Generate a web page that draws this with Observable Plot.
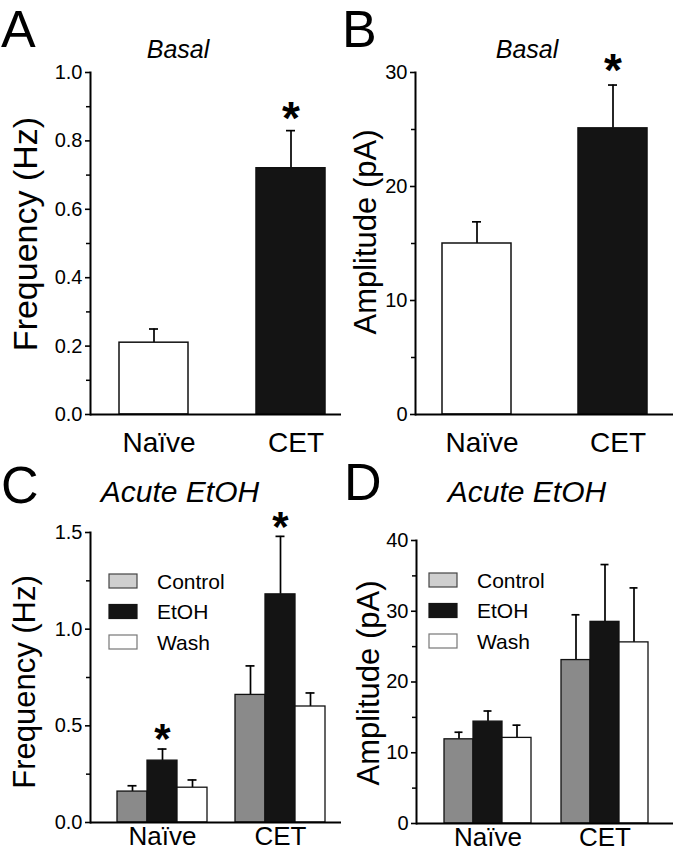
<!DOCTYPE html>
<html><head><meta charset="utf-8">
<script src="https://cdn.jsdelivr.net/npm/d3@7"></script>
<script src="https://cdn.jsdelivr.net/npm/@observablehq/plot@0.6"></script>
<style>
body{margin:0;background:#fff;}
#wrap{position:relative;width:673px;height:853px;overflow:hidden;font-family:"Liberation Sans",Arial,sans-serif;background:#fff;}
#wrap > svg{position:absolute;}
</style></head><body><div id="wrap"></div>
<script>
// ---------- data ----------
const basalGroups = ["Naïve", "CET"];
const basalFreq = [0.21, 0.72];
const basalFreqErr = [0.04, 0.11];
const basalAmp = [15.0, 25.1];
const basalAmpErr = [1.9, 3.8];
const basalSig = [false, true];

const conditions = ["Control", "EtOH", "Wash"];
const acuteGroups = ["Naïve", "CET"];
const acuteFreqNaive = [0.16, 0.32, 0.18];
const acuteFreqNaiveErr = [0.03, 0.06, 0.04];
const acuteFreqCET = [0.66, 1.18, 0.60];
const acuteFreqCETErr = [0.15, 0.30, 0.07];
const acuteFreqSig = [false, true, false];
const acuteAmpNaive = [11.9, 14.4, 12.1];
const acuteAmpNaiveErr = [1.0, 1.5, 1.8];
const acuteAmpCET = [23.1, 28.5, 25.6];
const acuteAmpCETErr = [6.4, 8.1, 7.7];
const acuteAmpSig = [false, false, false];

const freqTicks = [0, 0.2, 0.4, 0.6, 0.8, 1.0];
const freqMinor = [0.1, 0.3, 0.5, 0.7, 0.9];
const ampTicks = [0, 10, 20, 30];
const ampMinor = [5, 15, 25];
const acuteFreqTicks = [0, 0.5, 1.0, 1.5];
const acuteFreqMinor = [0.25, 0.75, 1.25];
const acuteAmpTicks = [0, 10, 20, 30, 40];
const acuteAmpMinor = [5, 15, 25, 35];

// ---------- styles ----------
const FONT = "'Liberation Sans', Arial, sans-serif";
const baseStyle = {background: "transparent", fontFamily: FONT, fontSize: "20px", color: "black", overflow: "visible"};
const wrap = document.getElementById("wrap");
function place(svg, left, top) { svg.style.left = left + "px"; svg.style.top = top + "px"; wrap.appendChild(svg); }

function yAxisMarks(ticks, minor, fmt) {
  return [
    Plot.axisY(minor, {tickSize: 4, strokeWidth: 1.5, tickFormat: () => "", label: null}),
    Plot.axisY(ticks, {tickSize: 5, tickPadding: 3, strokeWidth: 1.6, tickFormat: fmt, fontSize: 20, label: null}),
    Plot.frame({anchor: "left", strokeWidth: 2}),
    Plot.ruleY([0], {strokeWidth: 2})
  ];
}

function basalPanel(o) {
  const rows = basalGroups.map((g, i) => ({group: g, value: o.values[i], err: o.errs[i], sig: basalSig[i]}));
  return Plot.plot({
    width: o.width, height: 460,
    marginLeft: o.ml, marginRight: 0, marginTop: 72, marginBottom: 46,
    style: baseStyle,
    x: {domain: basalGroups, paddingInner: o.pi, paddingOuter: o.po, align: o.align},
    y: {domain: o.domain},
    color: {domain: basalGroups, range: ["white", "#141414"]},
    marks: [
      Plot.ruleX(rows, {x: "group", y1: "value", y2: d => d.value + d.err, strokeWidth: 1.7}),
      Plot.tickY(rows, {x: "group", y: d => d.value + d.err, strokeWidth: 1.7, insetLeft: 30, insetRight: 30}),
      Plot.barY(rows, {x: "group", y: "value", fill: "group", stroke: "#111", strokeWidth: 1.5}),
      Plot.text(rows.filter(d => d.sig), {x: "group", y: d => d.value + d.err, text: () => "*", fontSize: 46, fontWeight: "bold", dy: o.starDy, lineAnchor: "middle"}),
      Plot.axisX({tickSize: 0, tickPadding: 18, fontSize: 28, label: null, dx: 5}),
      ...yAxisMarks(o.ticks, o.minor, o.fmt)
    ]
  });
}

function acutePanel(o) {
  const rows = [];
  acuteGroups.forEach((g, gi) => conditions.forEach((c, ci) => {
    rows.push({group: g, cond: c, value: o.values[gi][ci], err: o.errs[gi][ci], sig: o.sig[ci]});
  }));
  const common = {width: o.width, height: 393, marginLeft: o.ml, marginRight: 0, marginTop: o.mt, marginBottom: 853 - 460 - o.zeroY, style: baseStyle};
  const bars = Plot.plot({
    ...common,
    fx: {domain: acuteGroups, paddingInner: o.pi, paddingOuter: o.po, align: o.align, label: null},
    x: {domain: conditions, padding: 0, axis: null},
    y: {domain: o.domain, axis: null},
    color: {domain: conditions, range: ["#8a8a8a", "#141414", "white"]},
    marks: [
      Plot.ruleX(rows, {fx: "group", x: "cond", y1: "value", y2: d => d.value + d.err, strokeWidth: 1.7}),
      Plot.tickY(rows, {fx: "group", x: "cond", y: d => d.value + d.err, strokeWidth: 1.7, insetLeft: 10.5, insetRight: 10.5}),
      Plot.barY(rows, {fx: "group", x: "cond", y: "value", fill: "cond", stroke: "#111", strokeWidth: 1.3}),
      Plot.text(rows.filter(d => d.sig), {fx: "group", x: "cond", y: d => d.value + d.err, text: () => "*", fontSize: 42, fontWeight: "bold", dy: -9, lineAnchor: "middle"}),
      Plot.axisFx({anchor: "bottom", tickSize: 0, tickPadding: 4, fontSize: 26, label: null})
    ]
  });
  const axes = Plot.plot({
    ...common,
    y: {domain: o.domain},
    marks: yAxisMarks(o.ticks, o.minor, o.fmt)
  });
  return [bars, axes];
}

// ---------- panels ----------
place(basalPanel({values: basalFreq, errs: basalFreqErr, domain: [0, 1], ticks: freqTicks, minor: freqMinor, fmt: d3.format(".1f"),
  width: 341, ml: 90, pi: 0.5, po: 0.16, align: 0.64, starDy: -11}), 0, 0);
place(basalPanel({values: basalAmp, errs: basalAmpErr, domain: [0, 30], ticks: ampTicks, minor: ampMinor, fmt: d3.format("d"),
  width: 337, ml: 79, pi: 0.493, po: 0.19, align: 0.5, starDy: -14}), 336, 0);

const [cBars, cAxes] = acutePanel({values: [acuteFreqNaive, acuteFreqCET], errs: [acuteFreqNaiveErr, acuteFreqCETErr], sig: acuteFreqSig,
  domain: [0, 1.5], ticks: acuteFreqTicks, minor: acuteFreqMinor, fmt: d3.format(".1f"),
  width: 341, ml: 90, mt: 72, zeroY: 362, pi: 0.237, po: 0.18, align: 0.63});
place(cBars, 0, 460); place(cAxes, 0, 460);
const [dBars, dAxes] = acutePanel({values: [acuteAmpNaive, acuteAmpCET], errs: [acuteAmpNaiveErr, acuteAmpCETErr], sig: acuteAmpSig,
  domain: [0, 40], ticks: acuteAmpTicks, minor: acuteAmpMinor, fmt: d3.format("d"),
  width: 337, ml: 80, mt: 80, zeroY: 363, pi: 0.24, po: 0.21, align: 0.52});
place(dBars, 336, 460); place(dAxes, 336, 460);

// ---------- annotations: letters, titles, y labels, legends ----------
const ov = d3.select(wrap).append("svg").attr("width", 673).attr("height", 853)
  .style("left", "0px").style("top", "0px").style("font-family", FONT).style("overflow", "visible");

const letters = [["A", 1, 47], ["B", 342, 47], ["C", 1, 503], ["D", 344, 500]];
letters.forEach(([t, x, y]) => ov.append("text").attr("x", x).attr("y", y).attr("font-size", 52).text(t));

const titles = [["Basal", 178, 58, 25], ["Basal", 527, 58, 25], ["Acute EtOH", 180, 502, 30], ["Acute EtOH", 527, 502, 30]];
titles.forEach(([t, x, y, s]) => ov.append("text").attr("x", x).attr("y", y).attr("font-size", s)
  .attr("font-style", "italic").attr("text-anchor", "middle").text(t));

const ylabels = [["Frequency (Hz)", 37, 234, 34], ["Amplitude (pA)", 376, 232, 31], ["Frequency (Hz)", 35, 682, 31], ["Amplitude (pA)", 379, 683, 31]];
ylabels.forEach(([t, x, y, s]) => ov.append("text").attr("transform", `translate(${x},${y}) rotate(-90)`)
  .attr("font-size", s).attr("text-anchor", "middle").text(t));

const legendFill = ["#cfcfcf", "#141414", "white"];
const legendStroke = ["#444", "#141414", "#777"];
[[109, 581], [429, 580]].forEach(([lx, ly]) => {
  conditions.forEach((c, i) => {
    const cy = ly + i * 30.5;
    ov.append("rect").attr("x", lx).attr("y", cy - 7).attr("width", 28).attr("height", 14)
      .attr("fill", legendFill[i]).attr("stroke", legendStroke[i]).attr("stroke-width", 1.2);
    ov.append("text").attr("x", lx + 48).attr("y", cy).attr("dy", "0.36em").attr("font-size", 21).text(c);
  });
});
</script></body></html>
